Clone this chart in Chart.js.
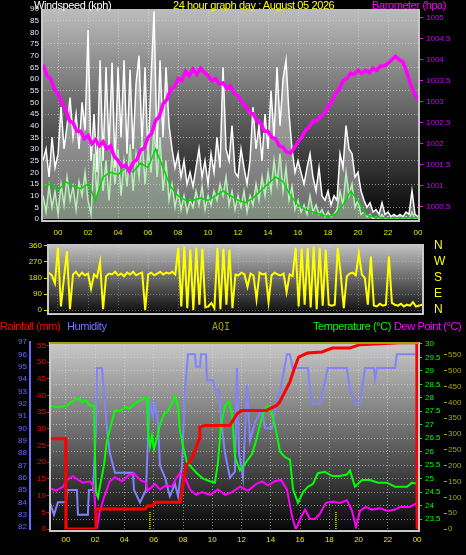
<!DOCTYPE html>
<html>
<head>
<meta charset="utf-8">
<script src="https://cdn.jsdelivr.net/npm/chart.js@4/dist/chart.umd.min.js"></script>
<style>
  body { margin: 0; background: #000; width: 466px; height: 555px; overflow: hidden; position: relative; font-family: "Liberation Sans", Arial, sans-serif; }
  canvas { position: absolute; left: 0; }
  .t { position: absolute; font-size: 11px; line-height: 12px; white-space: nowrap; z-index: 5; letter-spacing: -0.4px; }
</style>
</head>
<body>
<canvas id="wind" width="466" height="245" style="top:0"></canvas>
<canvas id="dir" width="466" height="85" style="top:238px"></canvas>
<canvas id="env" width="466" height="225" style="top:330px"></canvas>

<div class="t" style="left:34px;top:-1px;color:#fff">Windspeed (kph)</div>
<div class="t" style="left:173px;top:-1px;color:#ffff00">24 hour graph day : August 05 2026</div>
<div class="t" style="left:372px;top:-1px;color:#ff00ff">Barometer (hpa)</div>
<div class="t" style="left:0;top:320px;color:#ff0000">Rainfall (mm)</div>
<div class="t" style="left:67px;top:320px;color:#7878ff">Humidity</div>
<div class="t" style="left:212px;top:321px;color:#a0a000;font-family:'DejaVu Sans Mono',monospace;font-size:10px;letter-spacing:0">AQI</div>
<div class="t" style="left:313px;top:320px;color:#00ff00">Temperature (°C)</div>
<div class="t" style="left:394px;top:320px;color:#ff00ff">Dew Point (°C)</div>

<script>
// ---- data (hours from midnight) ----
const hourTicks = [0, 2, 4, 6, 8, 10, 12, 14, 16, 18, 20, 22, 24];

// wind: samples every 0.2 h from -1.0 to 24.0
const gustKph = [
  25, 30, 18, 35, 22,
  28, 48, 30, 40, 52, 35, 45, 30, 50, 38,
  81, 25, 45, 20, 68, 25, 65, 30, 67, 22,
  65, 35, 68, 28, 64, 30, 58, 70, 32, 65,
  25, 60, 89, 30, 68, 35, 65, 40, 30, 22,
  28, 18, 25, 15, 20, 14, 22, 30, 18, 25,
  15, 28, 20, 35, 22, 65, 30, 25, 40, 20,
  18, 30, 22, 15, 25, 48, 30, 40, 25, 45,
  30, 55, 35, 65, 40, 60, 68, 45, 30, 20,
  25, 20, 15, 22, 28, 18, 12, 22, 10, 8,
  12, 6, 10, 8, 28, 22, 40, 30, 28, 18,
  20, 12, 8, 5, 7, 3, 4, 2, 7, 2,
  3, 1, 2, 1, 2, 1, 3, 2, 12, 2,
  1
];
const windKph = [
  10, 3, 14, 5, 12,
  2, 15, 6, 18, 8, 14, 4, 16, 10, 20,
  8, 2, 28, 10, 32, 12, 25, 8, 28, 15,
  30, 10, 25, 14, 32, 12, 28, 18, 35, 15,
  30, 20, 40, 18, 35, 12, 25, 8, 15, 5,
  12, 4, 10, 3, 8, 5, 12, 6, 14, 4,
  10, 6, 12, 8, 15, 10, 18, 6, 12, 4,
  10, 5, 12, 3, 10, 6, 15, 8, 18, 10,
  20, 12, 25, 15, 28, 12, 22, 8, 14, 4,
  8, 3, 6, 2, 10, 3, 6, 2, 4, 1,
  3, 1, 2, 4, 12, 6, 20, 10, 15, 5,
  8, 2, 3, 1, 2, 0, 1, 0, 2, 0,
  1, 0, 1, 0, 1, 0, 1, 0, 3, 0,
  0
];
// average wind: every 0.5 h from -1.0 to 24.0
const avgKph = [
  14, 15,
  12, 16, 14, 13,
  15, 8, 18, 20,
  19, 22, 20, 24,
  22, 30, 22, 14,
  10, 8, 8, 9,
  8, 10, 12, 10,
  8, 7, 9, 12,
  15, 18, 16, 10,
  6, 4, 3, 2,
  1, 2, 6, 12,
  8, 2, 1, 0.5,
  0.5, 0.5, 0.5, 0.5,
  0.5
];
// barometer: every 0.25 h from -1.0 to 24.0
const baroHpa = [
  1003.88, 1003.62, 1003.55, 1003.3,
  1003.2, 1002.95, 1002.85, 1002.55, 1002.5, 1002.3, 1002.3, 1002.12,
  1002.2, 1002.0, 1002.1, 1001.95, 1002.05, 1001.88, 1001.95, 1001.7,
  1001.6, 1001.45, 1001.5, 1001.35, 1001.55, 1001.62, 1001.85, 1001.9,
  1002.15, 1002.25, 1002.55, 1002.65, 1002.95, 1003.05, 1003.3, 1003.35,
  1003.55, 1003.5, 1003.72, 1003.62, 1003.78, 1003.65, 1003.8, 1003.7,
  1003.62, 1003.5, 1003.55, 1003.42, 1003.45, 1003.32, 1003.38, 1003.2,
  1003.15, 1002.98, 1002.92, 1002.75, 1002.72, 1002.55, 1002.5, 1002.3,
  1002.3, 1002.15, 1002.12, 1001.95, 1001.92, 1001.8, 1001.78, 1001.9,
  1002.05, 1002.15, 1002.32, 1002.4, 1002.55, 1002.55, 1002.65, 1002.72,
  1002.88, 1003.0, 1003.2, 1003.3, 1003.5, 1003.55, 1003.68, 1003.65,
  1003.75, 1003.68, 1003.75, 1003.7, 1003.8, 1003.75, 1003.85, 1003.85,
  1003.92, 1004.0, 1004.08, 1004.0, 1003.95, 1003.7, 1003.42, 1003.2,
  1003.05
];
const kphTicks = [0, 5, 10, 15, 20, 25, 30, 35, 40, 45, 50, 55, 60, 65, 70, 75, 80, 85, 90];
const baroTicks = [1000.5, 1001, 1001.5, 1002, 1002.5, 1003, 1003.5, 1004, 1004.5, 1005];

// wind direction: every 0.2 h from -0.6 to 24.2
const dirDeg = [
  210, 195, 150,
  350, 20, 180, 330, 5, 200, 215, 190, 210, 195,
  205, 120, 200, 185, 270, 5, 190, 205, 200, 215,
  195, 205, 190, 210, 200, 215, 195, 205, 210, 0,
  200, 210, 195, 205, 215, 200, 210, 205, 215, 200,
  350, 20, 355, 10, 340, 0, 350, 30, 345, 15,
  20, 40, 10, 350, 5, 345, 30, 340, 10, 200,
  195, 210, 200, 130, 205, 195, 60, 210, 200, 205,
  45, 195, 210, 200, 195, 205, 100, 200, 190, 350,
  20, 345, 30, 350, 15, 355, 5, 350, 25, 340,
  30, 25, 30, 350, 200, 10, 190, 205, 210, 195,
  320, 200, 180, 30, 300, 25, 20, 35, 25, 30,
  300, 40, 30, 25, 35, 20, 30, 25, 45, 20,
  25, 30
];
const dirTicks = [0, 90, 180, 270, 360];
const compassLabels = ['N', 'E', 'S', 'W', 'N'];

// rainfall (cumulative, resets at midnight)
const rainHours = [-1.09, -0.02, 0, 2.0, 2.05, 5.4, 5.6, 5.9, 6.1, 7.8, 7.95, 8.2, 8.6, 8.95, 9.1, 9.15, 9.5, 11.2, 11.7, 12.0, 13.7, 14.4, 14.6, 15.3, 15.6, 15.9, 16.5, 17.5, 18.2, 19.4, 20.1, 21.5, 22.8, 23.98, 24.0];
const rainMm = [27, 27, 0, 0, 6, 6, 7, 7, 8, 8, 12, 19, 21, 25, 27, 30.5, 31, 31, 34.5, 35.5, 35.5, 37, 38, 44, 48, 51.5, 52.7, 53, 54.2, 54.2, 55.2, 55.5, 55.8, 55.8, 0];

const humHours = [-1.09, -0.82, -0.55, 0, 0.07, 0.75, 0.82, 1.5, 1.57, 1.85, 2.05, 2.12, 2.46, 2.67, 2.8, 3.0, 3.35, 4.58, 4.65, 5.06, 5.47, 5.6, 5.74, 5.95, 6.08, 6.29, 6.42, 6.77, 7.1, 7.45, 7.66, 7.93, 8.13, 8.34, 8.82, 8.89, 9.16, 9.23, 9.57, 9.64, 10.05, 10.18, 10.46, 10.6, 10.87, 11.21, 11.55, 11.69, 11.83, 12.1, 12.37, 12.58, 12.92, 13.4, 13.6, 14.08, 14.29, 14.63, 14.9, 15.1, 15.3, 15.5, 16.54, 16.68, 16.88, 17.36, 17.57, 17.9, 19.2, 19.41, 19.75, 20.1, 20.44, 21.05, 21.12, 21.26, 22.49, 22.62, 24.06];
const humPct = [84, 83, 84, 84, 85, 85, 83, 83, 85, 85, 90, 94.9, 94.9, 92, 90, 88, 86.4, 86.4, 85, 84, 85, 89, 92, 91, 92, 90.5, 87, 86, 84.5, 85.5, 84.5, 87, 93, 96, 96, 95, 95, 96, 96, 93.9, 93.9, 93.1, 93.1, 90.7, 88, 86, 86.5, 94.9, 88, 86, 93.5, 89, 90.5, 91.5, 90, 90, 91.5, 93, 94.7, 96, 96, 94.9, 94.9, 93.1, 92, 92, 93.1, 94.9, 94.9, 93.1, 92, 92, 94.9, 94.9, 94, 94.9, 94.9, 96, 96];

const tempHours = [-1.09, -0.55, 0.07, 0.41, 0.82, 1.09, 1.37, 1.64, 1.91, 1.98, 2.05, 2.19, 2.32, 2.6, 2.8, 3.08, 3.35, 3.69, 4.03, 4.37, 4.72, 5.06, 5.4, 5.54, 5.6, 5.74, 5.88, 6.02, 6.22, 6.42, 6.7, 6.97, 7.25, 7.45, 7.66, 7.79, 8.0, 8.27, 8.61, 8.95, 9.36, 9.84, 10.18, 10.39, 10.6, 10.87, 11.14, 11.35, 11.55, 11.89, 12.3, 12.71, 12.99, 13.26, 13.53, 13.81, 14.08, 14.35, 14.63, 14.97, 15.31, 15.52, 15.86, 16.2, 16.54, 16.88, 17.22, 17.7, 18.18, 18.73, 19.2, 19.41, 19.75, 20.23, 20.78, 21.33, 21.94, 22.49, 23.31, 23.65, 24.06];
const tempC = [27.7, 27.65, 27.7, 27.85, 28.0, 27.85, 27.9, 27.7, 27.7, 26.0, 24.5, 24.3, 24.7, 25.5, 26.4, 27.0, 27.55, 27.5, 27.65, 27.6, 27.8, 27.9, 28.0, 28.0, 26.8, 26.2, 26.6, 26.1, 26.5, 27.0, 27.4, 27.5, 27.8, 28.05, 27.7, 26.8, 26.2, 25.6, 25.4, 25.2, 25.0, 24.9, 24.85, 25.6, 27.0, 27.7, 27.85, 27.4, 25.8, 25.3, 25.6, 25.9, 26.4, 27.0, 27.5, 27.7, 27.4, 26.8, 26.0, 25.8, 25.7, 24.6, 24.1, 24.5, 24.7, 24.8, 25.2, 25.25, 25.1, 25.1, 25.15, 25.3, 24.7, 24.95, 24.95, 24.85, 24.85, 24.7, 24.7, 24.85, 24.8];

const dewHours = [-1.09, -0.68, -0.2, 0.07, 0.48, 0.82, 1.16, 1.64, 1.91, 2.05, 2.12, 2.32, 2.6, 3.0, 3.35, 3.83, 4.24, 4.65, 5.06, 5.47, 5.6, 6.08, 6.42, 6.84, 7.25, 7.52, 7.79, 8.13, 8.48, 8.89, 9.3, 9.84, 10.39, 10.87, 11.35, 11.89, 12.44, 12.99, 13.4, 13.81, 14.29, 14.7, 15.1, 15.45, 15.72, 16.0, 16.34, 16.68, 17.02, 17.36, 17.77, 18.25, 18.73, 19.2, 19.55, 19.82, 20.1, 20.5, 20.92, 21.47, 22.01, 22.49, 22.83, 23.52, 23.99];
const dewC = [24.65, 24.55, 24.7, 24.95, 25.1, 24.95, 24.85, 24.9, 24.7, 23.5, 23.2, 23.8, 24.3, 24.9, 25.05, 24.9, 25.1, 25.2, 24.95, 24.85, 24.55, 24.8, 24.6, 24.75, 24.7, 25.0, 25.2, 25.05, 24.6, 24.4, 24.5, 24.4, 24.6, 24.4, 24.5, 24.7, 24.55, 24.8, 24.9, 24.75, 24.9, 24.95, 24.6, 23.6, 23.1, 23.5, 23.85, 23.5, 23.5, 23.7, 24.1, 24.15, 24.1, 24.2, 23.8, 23.2, 23.8, 23.95, 23.85, 23.9, 23.8, 23.85, 23.95, 23.95, 24.1];

// AQI only has two short readings
const aqiHours = [5.74, 5.74, 5.74, 18.45, 18.45];
const aqiVal = [0, 57, null, 0, 57];

const humTicks = [82, 83, 84, 85, 86, 87, 88, 89, 90, 91, 92, 93, 94, 95, 96, 97];
const rainTicks = [0, 5, 10, 15, 20, 25, 30, 35, 40, 45, 50, 55];
const tempTicks = [23.5, 24, 24.5, 25, 25.5, 26, 26.5, 27, 27.5, 28, 28.5, 29, 29.5, 30];
const aqiTicks = [0, 50, 100, 150, 200, 250, 300, 350, 400, 450, 500, 550];

// ---- helpers ----
function series(start, step, values) {
  return values.map((v, i) => ({ x: start + i * step, y: v }));
}
function pairs(hours, values) {
  return hours.map((h, i) => ({ x: h, y: values[i] }));
}
function fixTicks(list) {
  return s => { s.ticks = list.map(v => ({ value: v })); };
}
// pin an axis to a fixed size and stop labels from pushing the plot area around
function fixSize(w, h) {
  return s => {
    if (w !== null) s.width = w;
    if (h !== null) s.height = h;
    s.paddingTop = 0; s.paddingBottom = 0; s.paddingLeft = 0; s.paddingRight = 0;
  };
}
function hourLabel(v) {
  return String(v % 24).padStart(2, '0');
}
const plain = v => String(v);
const tickFont = { family: 'Liberation Sans', size: 8 };
const dotted = 'rgba(225,225,225,0.55)';

function panel(top, bottom, frame, topLine) {
  return {
    id: 'panel',
    beforeDraw(chart) {
      const { ctx, chartArea: a } = chart;
      const g = ctx.createLinearGradient(0, a.top, 0, a.bottom);
      g.addColorStop(0, top);
      g.addColorStop(1, bottom);
      ctx.save();
      ctx.fillStyle = g;
      ctx.fillRect(a.left, a.top, a.right - a.left, a.bottom - a.top);
      ctx.restore();
    },
    afterDraw(chart) {
      const { ctx, chartArea: a } = chart;
      ctx.save();
      ctx.strokeStyle = frame;
      ctx.lineWidth = 2;
      ctx.beginPath();
      ctx.moveTo(a.left, a.top);
      ctx.lineTo(a.left, a.bottom + 2);
      ctx.lineTo(a.right + 1, a.bottom + 2);
      ctx.lineTo(a.right + 1, a.top);
      ctx.stroke();
      if (topLine) {
        ctx.strokeStyle = topLine;
        ctx.beginPath();
        ctx.moveTo(a.left, a.top + 1);
        ctx.lineTo(a.right + 1, a.top + 1);
        ctx.stroke();
      }
      ctx.restore();
    }
  };
}

const common = {
  responsive: false,
  animation: false,
  events: [],
  plugins: { legend: { display: false }, tooltip: { enabled: false } },
  elements: { point: { radius: 0 }, line: { tension: 0 } }
};

// ---- wind speed + barometer ----
new Chart(document.getElementById('wind'), {
  type: 'line',
  data: {
    datasets: [
      { label: 'Barometer', data: series(-1, 0.25, baroHpa), yAxisID: 'baro', borderColor: '#ff00ff', borderWidth: 3.5 },
      { label: 'Average', data: series(-1, 0.5, avgKph), yAxisID: 'kph', borderColor: '#00d800', borderWidth: 1.5 },
      { label: 'Wind speed', data: series(-1, 0.2, windKph), yAxisID: 'kph', borderColor: '#b8f0b8', borderWidth: 1.5,
        fill: 'origin', backgroundColor: 'rgba(190,240,190,0.25)' },
      { label: 'Gust', data: series(-1, 0.2, gustKph), yAxisID: 'kph', borderColor: '#ffffff', borderWidth: 1.5,
        fill: 'origin', backgroundColor: 'rgba(255,255,255,0.4)' }
    ]
  },
  options: {
    ...common,
    layout: { padding: { top: 9 } },
    scales: {
      x: {
        type: 'linear', min: -1.07, max: 24,
        afterBuildTicks: fixTicks(hourTicks),
        afterFit: fixSize(null, 26),
        ticks: { color: '#e6e600', font: tickFont, padding: 9, maxRotation: 0, autoSkip: false, callback: hourLabel },
        grid: { color: dotted, drawTicks: false },
        border: { display: false, dash: [1, 2] }
      },
      kph: {
        position: 'left', min: 0, max: 90,
        afterBuildTicks: fixTicks(kphTicks),
        afterFit: fixSize(42, null),
        ticks: { color: '#dde6ff', font: tickFont, padding: 3, autoSkip: false, callback: plain },
        grid: { color: c => (c.tick && c.tick.value % 10 === 5 ? dotted : 'transparent'), drawTicks: false },
        border: { display: false, dash: [1, 2] }
      },
      baro: {
        position: 'right', min: 1000.21, max: 1005.21,
        afterBuildTicks: fixTicks(baroTicks),
        afterFit: fixSize(48, null),
        ticks: { color: '#c400ff', font: tickFont, padding: 3, autoSkip: false, callback: plain },
        grid: { drawOnChartArea: false, tickLength: 5, tickColor: '#ff00ff' },
        border: { display: false }
      }
    }
  },
  plugins: [panel('#bdbdbd', '#050505', '#c8c8c8')]
});

// ---- wind direction ----
new Chart(document.getElementById('dir'), {
  type: 'line',
  data: {
    datasets: [
      { label: 'Direction', data: series(-0.6, 0.2, dirDeg), yAxisID: 'deg', borderColor: '#ffff00', borderWidth: 2 }
    ]
  },
  options: {
    ...common,
    layout: { padding: { top: 6 } },
    scales: {
      x: {
        type: 'linear', min: -0.66, max: 24.2,
        afterBuildTicks: fixTicks(hourTicks),
        afterFit: fixSize(null, 11),
        ticks: { display: false },
        grid: { color: 'rgba(225,225,225,0.35)', drawTicks: false },
        border: { display: false, dash: [1, 2] }
      },
      deg: {
        position: 'left', min: -11, max: 371,
        afterBuildTicks: fixTicks(dirTicks),
        afterFit: fixSize(48, null),
        ticks: { color: '#e0e000', font: tickFont, padding: 2, autoSkip: false, callback: plain },
        grid: { color: 'rgba(225,225,225,0.35)', tickLength: 4, tickColor: '#e0e000' },
        border: { display: false, dash: [1, 2] }
      },
      compass: {
        position: 'right', min: -11, max: 371,
        afterBuildTicks: fixTicks(dirTicks),
        afterFit: fixSize(44, null),
        ticks: { color: '#ffff00', font: { family: 'Liberation Sans', size: 12 }, padding: 4, autoSkip: false, callback: (v, i) => compassLabels[i] },
        grid: { display: false },
        border: { display: false }
      }
    }
  },
  plugins: [panel('#c4c4c4', '#101010', '#c8c8c8')]
});

// ---- rain, humidity, AQI, temperature, dew point ----
new Chart(document.getElementById('env'), {
  type: 'line',
  data: {
    datasets: [
      { label: 'Rainfall', data: pairs(rainHours, rainMm), yAxisID: 'rain', borderColor: '#ff0000', borderWidth: 3 },
      { label: 'Temperature', data: pairs(tempHours, tempC), yAxisID: 'temp', borderColor: '#00ff00', borderWidth: 2 },
      { label: 'Dew Point', data: pairs(dewHours, dewC), yAxisID: 'temp', borderColor: '#ff00ff', borderWidth: 2 },
      { label: 'Humidity', data: pairs(humHours, humPct), yAxisID: 'hum', borderColor: '#8282ff', borderWidth: 2 },
      { label: 'AQI', data: pairs(aqiHours, aqiVal), yAxisID: 'aqi', borderColor: '#e0e000', borderWidth: 1.5, borderDash: [1, 1], spanGaps: false }
    ]
  },
  options: {
    ...common,
    layout: { padding: { top: 12 } },
    scales: {
      x: {
        type: 'linear', min: -1.09, max: 24.06,
        afterBuildTicks: fixTicks(hourTicks),
        afterFit: fixSize(null, 26),
        ticks: { color: '#e6e600', font: tickFont, padding: 6, maxRotation: 0, autoSkip: false, callback: hourLabel },
        grid: { color: dotted, drawTicks: false },
        border: { display: false, dash: [1, 2] }
      },
      rain: {
        position: 'left', min: 0, max: 56,
        afterBuildTicks: fixTicks(rainTicks),
        afterFit: fixSize(20, null),
        ticks: { color: '#ff0000', font: tickFont, padding: 1, autoSkip: false, callback: plain },
        grid: { drawOnChartArea: false, tickLength: 3, tickColor: '#ff0000' },
        border: { display: false }
      },
      hum: {
        position: 'left', min: 81.84, max: 97,
        afterBuildTicks: fixTicks(humTicks),
        afterFit: fixSize(30, null),
        ticks: { color: '#6a6aff', font: tickFont, padding: 3, autoSkip: false, callback: plain },
        grid: { drawOnChartArea: false, drawTicks: false },
        border: { display: true, color: '#6a6aff', width: 2 }
      },
      temp: {
        position: 'right', min: 23.13, max: 30.07,
        afterBuildTicks: fixTicks(tempTicks),
        afterFit: fixSize(26, null),
        ticks: { color: '#00ff00', font: tickFont, padding: 3, autoSkip: false, callback: plain },
        grid: { color: dotted, tickLength: 4, tickColor: '#00ff00' },
        border: { display: false, dash: [1, 2] }
      },
      aqi: {
        position: 'right', min: 0, max: 591,
        afterBuildTicks: fixTicks(aqiTicks),
        afterFit: fixSize(22, null),
        ticks: { color: '#a8a800', font: tickFont, padding: 1, autoSkip: false, callback: plain },
        grid: { drawOnChartArea: false, tickLength: 3, tickColor: '#a8a800' },
        border: { display: false }
      }
    }
  },
  plugins: [panel('#cacaca', '#080808', '#c8c8c8', '#a8a000')]
});
</script>
</body>
</html>
